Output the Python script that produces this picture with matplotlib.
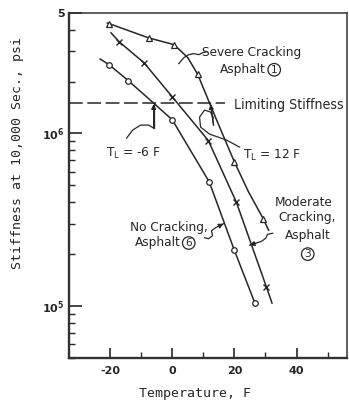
import matplotlib
matplotlib.use('Agg')
import matplotlib.pyplot as plt
import numpy as np
from matplotlib.transforms import IdentityTransform

# stiffness (psi) vs temperature (F)
severe_t = [-20.9, -7.6, 0.6, 5.0, 8.2, 12.0, 15.8, 20.0, 24.5, 29.3, 31.0]
severe_s = [4.37e6, 3.58e6, 3.27e6, 2.75e6, 2.20e6, 1.50e6, 1.03e6, 6.84e5, 4.60e5, 3.20e5, 2.75e5]
severe_pt_t = [-20.3, -7.6, 0.6, 8.2, 20.0, 29.3]
severe_pt_s = [4.31e6, 3.58e6, 3.27e6, 2.20e6, 6.84e5, 3.20e5]

moderate_t = [-19.7, -17.1, -9.1, 0.0, 11.6, 20.6, 30.3, 32.1]
moderate_s = [3.83e6, 3.40e6, 2.57e6, 1.63e6, 9.1e5, 4.01e5, 1.29e5, 1.04e5]
moderate_pt_t = [-17.1, -9.1, 0.0, 11.6, 20.6, 30.3]
moderate_pt_s = [3.40e6, 2.57e6, 1.63e6, 9.1e5, 4.01e5, 1.29e5]

none_t = [-23.2, -20.3, -14.1, -6.0, 0.0, 11.9, 20.0, 26.6]
none_s = [2.70e6, 2.50e6, 2.02e6, 1.50e6, 1.20e6, 5.24e5, 2.10e5, 1.04e5]
none_pt_t = [-20.3, -14.1, 0.0, 11.9, 20.0, 26.6]
none_pt_s = [2.50e6, 2.02e6, 1.20e6, 5.24e5, 2.10e5, 1.04e5]

s_limit = 1.5e6
tl_none = -6
tl_severe = 12

xticks = [-20, 0, 20, 40]
xminor = [-10, 10, 30, 50]

ink = '#262626'
mono = 'DejaVu Sans Mono'

fig = plt.figure(figsize=(3.49, 4.08), dpi=100)
ax = fig.add_axes([0.198, 0.1225, 0.796, 0.846])
ax.set_yscale('log')
ax.set_xlim(-33.2, 56.2)
ax.set_ylim(5e4, 5e6)

ax.plot(severe_t, severe_s, color=ink, lw=1.1)
ax.plot(moderate_t, moderate_s, color=ink, lw=1.1)
ax.plot(none_t, none_s, color=ink, lw=1.1)
ax.plot(severe_pt_t, severe_pt_s, ls='none', marker='^', ms=4.5, mfc='white', mec=ink, mew=0.9)
ax.plot(moderate_pt_t, moderate_pt_s, ls='none', marker='x', ms=5, mec=ink, mew=1.0)
ax.plot(none_pt_t, none_pt_s, ls='none', marker='o', ms=4, mfc='white', mec=ink, mew=0.9)

tkw = dict(family='DejaVu Sans', stretch='condensed', fontsize=9.7, color=ink,
           va='center', ha='left')

# limiting stiffness line
ax.plot([-33.2, 17], [s_limit, s_limit], color=ink, lw=1.1, dashes=(9, 3))
ax.text(20, s_limit * 0.98, 'Limiting Stiffness', **dict(tkw, fontsize=10.1))

# axes styling
for side in ['left', 'bottom']:
    ax.spines[side].set_linewidth(1.7)
for side in ['top', 'right']:
    ax.spines[side].set_linewidth(1.1)
for sp in ax.spines.values():
    sp.set_color('#333333')

ax.set_xticks(xticks)
ax.set_xticks(xminor, minor=True)
ax.set_xticklabels(['-20', '0', '20', '40'])
ax.set_yticks([1e5, 1e6, 5e6])
ax.set_yticklabels([r'$\mathbf{10^5}$', r'$\mathbf{10^6}$', '5'])
ax.tick_params(which='major', direction='in', length=9, width=1.2, colors=ink,
               labelsize=8)
ax.tick_params(which='minor', direction='in', length=4.5, width=1.0, colors=ink)
ax.tick_params(axis='x', which='major', length=7, pad=6)
ax.tick_params(axis='y', which='major', pad=3)
for lab in ax.get_xticklabels() + ax.get_yticklabels():
    lab.set_fontweight('bold')
ax.yaxis.set_minor_formatter(matplotlib.ticker.NullFormatter())

ax.set_xlabel('Temperature, F', family=mono, fontsize=9.5, color=ink)
ax.set_ylabel('Stiffness at 10,000 Sec., psi', family=mono, fontsize=9.5, color=ink)
ax.xaxis.set_label_coords(0.453, -0.084)
ax.yaxis.set_label_coords(-0.162, 0.594)

# curve labels
ax.text(9.6, 2.93e6, 'Severe Cracking', **tkw)
a1 = ax.text(15.4, 2.34e6, 'Asphalt', **tkw)
ax.text(-13.6, 2.84e5, 'No Cracking,', **tkw)
a6 = ax.text(-12.1, 2.32e5, 'Asphalt', **tkw)
ax.text(33.1, 4.0e5, 'Moderate', **tkw)
ax.text(34.1, 3.25e5, 'Cracking,', **tkw)
ax.text(36.2, 2.58e5, 'Asphalt', **tkw)

ckw = dict(family='DejaVu Sans', fontsize=7.6, color=ink, va='center', ha='center',
           bbox=dict(boxstyle='circle,pad=0.12', fc='none', ec=ink, lw=0.9))
ax.annotate('1', xy=(1, 0.5), xycoords=a1, xytext=(6, 0), textcoords='offset points', **ckw)
ax.annotate('6', xy=(1, 0.5), xycoords=a6, xytext=(6, 0), textcoords='offset points', **ckw)
ax.text(43.6, 2.0e5, '3', **ckw)

ax.text(-21.3, 7.7e5, r'T$_\mathregular{L}$ = -6 F', **tkw)
ax.text(22.8, 7.5e5, r'T$_\mathregular{L}$ = 12 F', **tkw)

fig.canvas.draw()


def pixel_path(anchor, offsets, arrow=False):
    # offsets are screen pixels from the anchor point, y measured downward
    x0, y0 = ax.transData.transform(anchor)
    pts = [(x0 + dx, y0 - dy) for dx, dy in offsets]
    xs, ys = zip(*pts)
    line = plt.Line2D(xs, ys, transform=IdentityTransform(), color=ink, lw=0.9)
    fig.add_artist(line)
    if arrow:
        ax.annotate('', xy=pts[-1], xytext=pts[-2], xycoords=IdentityTransform(),
                    textcoords=IdentityTransform(),
                    arrowprops=dict(arrowstyle='-|>', color=ink, lw=0.9,
                                    mutation_scale=7, shrinkA=0, shrinkB=0))


# T_L arrows up to the limiting line
pixel_path((tl_none, s_limit), [(0, 25), (0, 1)], arrow=True)
pixel_path((tl_none, s_limit), [(-27, 35), (-21, 27), (-13, 22), (-5, 22), (0, 25)])
pixel_path((tl_severe, s_limit), [(4, 22), (1, 1)], arrow=True)
pixel_path((tl_severe, s_limit), [(30, 44), (17, 37), (0, 31), (-9, 24), (-10, 14),
                                  (-5, 7), (1, 9), (4, 15)])

# leaders from labels to curves
pixel_path((5.0, 2.75e6), [(-9, 6), (-4, 0), (1, -3), (6, -4), (11, -3), (15, -5), (19, -6)])
pixel_path((16.5, 3.0e5), [(-19, 14), (-15, 15), (-11, 12), (-12, 7), (-8, 4), (-4, 2), (0, 0)],
           arrow=True)
pixel_path((24.9, 2.25e5), [(23, -12), (18, -11), (16, -7), (12, -4), (6, -2), (0, 0)],
           arrow=True)

fig.savefig('out.png', dpi=100)
